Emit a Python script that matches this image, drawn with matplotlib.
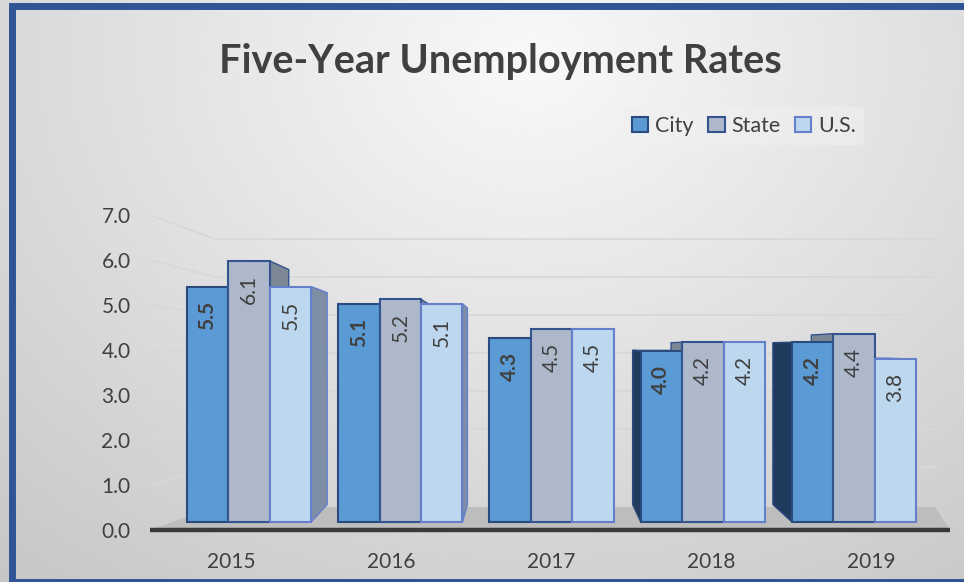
import numpy as np
import matplotlib.pyplot as plt
from matplotlib.patches import Polygon, Rectangle, Patch

plt.rcParams['font.family'] = ['Lato', 'DejaVu Sans']

years = ['2015', '2016', '2017', '2018', '2019']
series = ['City', 'State', 'U.S.']
city = [5.5, 5.1, 4.3, 4.0, 4.2]
state = [6.1, 5.2, 4.5, 4.2, 4.4]
us = [5.5, 5.1, 4.5, 4.2, 3.8]
yticks = [0, 1, 2, 3, 4, 5, 6, 7]

face = ['#5b9bd5', '#adb9ca', '#bdd7ee']
edge = ['#2b4a7e', '#35538f', '#6480cc']
side = ['#213b5e', '#7c8796', '#7d8ea5']
txt = '#404040'

W, H = 964, 582
fig = plt.figure(figsize=(W / 100, H / 100), dpi=100)

# background gradient + blue frame
bg = fig.add_axes([0, 0, 1, 1], zorder=-10)
gx, gy = np.meshgrid(np.linspace(0, 1, 300), np.linspace(0, 1, 200))
r = np.sqrt(((gx - 0.55) / 0.75) ** 2 + ((gy - 0.1) / 1.0) ** 2)
bg.imshow(np.clip(0.975 - 0.17 * r, 0, 1), cmap='gray', vmin=0, vmax=1,
          extent=[0, 1, 0, 1], aspect='auto', origin='upper')
bg.add_patch(Rectangle((12 / W, 0), 1, 1 - 6 / H, transform=bg.transAxes,
                       fill=False, ec='#2f5597', lw=5))
bg.set_xlim(0, 1)
bg.set_ylim(0, 1)
bg.axis('off')

# plot area in pixels: x 150..950, y 200..545 (from top)
PX_X = 151.3      # px per category
PX_Y = 42.8       # px per unit
x0 = -(249 - 150) / PX_X
y0 = (522 - 545) / PX_Y
ax = fig.add_axes([150 / W, (H - 545) / H, 800 / W, 345 / H])
ax.set_xlim(x0, x0 + 800 / PX_X)
ax.set_ylim(y0, (522 - 200) / PX_Y)
ax.patch.set_alpha(0)
for s in ax.spines.values():
    s.set_visible(False)


def px(p):
    return x0 + (p - 150) / PX_X


def py(p):
    return (522 - p) / PX_Y


# perspective helpers (vanishing point, depth scale)
vx, vy, sx, sy = px(530), py(347), 0.927, 0.9


def back(x, y):
    return (vx + sx * (x - vx), vy + sy * (y - vy))


# floor
ax.add_patch(Polygon([(px(150), py(530)), (px(950), py(530)), (px(935), py(507)),
                      (px(215), py(507))], closed=True, fc='#bdbdbd', ec='none', zorder=0))
ax.plot([px(150), px(950)], [py(530), py(530)], color='#3a3a3a', lw=3.2,
        solid_capstyle='round', zorder=5)

# back wall + side wall gridlines
for k in yticks[1:]:
    yb = py(505 - 38 * k)
    ax.plot([px(150), px(215), px(935)], [py(530 - 45 * k), yb, yb],
            color='#d8d8d8', lw=1.3, zorder=0)

# bars
w = 0.274
xs = np.arange(len(years))
for j, vals in enumerate([city, state, us]):
    pos = xs + (j - 1) * w
    ax.bar(pos, vals, width=w, color=face[j], edgecolor=edge[j], lw=1.5,
           zorder=3, label=series[j])
    for x, v in zip(pos, vals):
        xl, xr = x - w / 2, x + w / 2
        faces = []
        if xl > vx:
            faces.append([(xl, 0), (xl, v), back(xl, v), back(xl, 0)])
        if xr < vx:
            faces.append([(xr, 0), (xr, v), back(xr, v), back(xr, 0)])
        if v < vy:
            faces.append([(xl, v), (xr, v), back(xr, v), back(xl, v)])
        for f in faces:
            ax.add_patch(Polygon(f, closed=True, fc=side[j], ec=edge[j], lw=1.0, zorder=2))
        ax.annotate(f'{v:.1f}', (x, v), xytext=(0, -10), textcoords='offset points',
                    rotation=90, ha='center', va='top', fontsize=15, color=txt,
                    fontweight='bold' if j == 0 else 'normal', zorder=6)

# axis labels
ax.set_yticks([py(530 - 45 * k) for k in yticks], [f'{k:.1f}' for k in yticks])
k = 160 / PX_X - 1
ax.set_xticks([i + (i - 2) * k for i in xs], years)
ax.tick_params(axis='y', length=0, pad=14, labelsize=15, labelcolor=txt)
ax.tick_params(axis='x', length=0, pad=5, labelsize=15, labelcolor=txt)

fig.text(500 / W, 1 - 62 / H, 'Five-Year Unemployment Rates', ha='center', va='center',
         fontsize=28.5, fontweight='bold', color=txt)

handles = [Patch(fc=face[j], ec=edge[j], lw=1.5, label=series[j]) for j in range(3)]
fig.legend(handles=handles, loc='center', bbox_to_anchor=(744 / W, 1 - 126 / H), ncol=3,
           fontsize=15.5, frameon=True, facecolor='#f0f0f0', edgecolor='none', framealpha=0.6,
           handlelength=0.75, handleheight=0.75, handletextpad=0.3, columnspacing=0.7,
           borderpad=0.4, labelcolor=txt)

fig.savefig('out.png', dpi=100)
